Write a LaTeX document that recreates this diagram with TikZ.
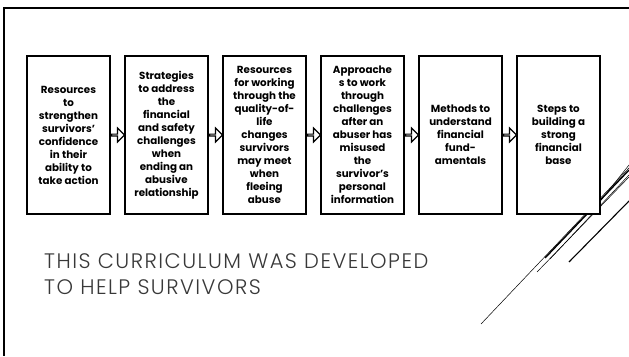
\documentclass[tikz,border=0pt]{standalone}
\usepackage{fontspec}
\setmainfont{Poppins}
\newfontfamily\titlefont[LetterSpace=7]{Poppins Light}
\usetikzlibrary{shapes,arrows,positioning,calc}

\definecolor{titlegray}{HTML}{383838}

\begin{document}
\begin{tikzpicture}[
    x=1pt, y=-1pt,
    stage/.style = {rectangle, draw, line width=1.1pt, fill=white, minimum width=83pt, minimum height=158pt, inner sep=0pt, align=center, font=\fontsize{10.3}{13}\selectfont\bfseries},
    flow/.style = {single arrow, draw, line width=1.1pt, fill=white, minimum height=13pt, minimum width=14pt, single arrow head extend=3.5pt, inner sep=0pt},
    deco/.style = {line width=0.5pt}
]
    \useasboundingbox (0,0) rectangle (629,356);
    % slide frame
    \draw[line width=2.5pt] (3,8) -- (629,8);
    \draw[line width=2.5pt] (4,8) -- (4,356);

    % diagonal decoration
    \draw[deco] (481,324) -- (629,168);
    \draw[deco] (537,272) -- (629,177);
    \draw[line width=1.4pt] (545,258) -- (629,170);
    \draw[deco] (550,259) -- (629,175);
    \draw[deco] (590,214) -- (629,165);
    \draw[line width=1.1pt] (569,262) -- (629,201);

    \node[stage] (confidence) at (68.5,135) {Resources\\to\\strengthen\\survivors’\\confidence\\in their\\ability to\\take action};
    \node[stage] (strategies) at (166.5,135) {Strategies\\to address\\the\\financial\\and safety\\challenges\\when\\ending an\\abusive\\relationship};
    \node[stage] (quality) at (264.5,135) {Resources\\for working\\through the\\quality-of-\\life\\changes\\survivors\\may meet\\when\\fleeing\\abuse};
    \node[stage] (approaches) at (362.5,135) {Approache\\s to work\\through\\challenges\\after an\\abuser has\\misused\\the\\survivor’s\\personal\\information};
    \node[stage] (methods) at (460.5,135) {Methods to\\understand\\financial\\fund-\\amentals};
    \node[stage] (base) at (558.5,135) {Steps to\\building a\\strong\\financial\\base};

    \node[flow] (f1) at ($(confidence.east)!0.5!(strategies.west)$) {};
    \node[flow] (f2) at ($(strategies.east)!0.5!(quality.west)$) {};
    \node[flow] (f3) at ($(quality.east)!0.5!(approaches.west)$) {};
    \node[flow] (f4) at ($(approaches.east)!0.5!(methods.west)$) {};
    \node[flow] (f5) at ($(methods.east)!0.5!(base.west)$) {};

    \node[anchor=north west, inner sep=0pt, align=left, text=titlegray, font=\titlefont\fontsize{21}{26.5}\selectfont] (title) at (44,253) {THIS CURRICULUM WAS DEVELOPED\\TO HELP SURVIVORS};
\end{tikzpicture}
\end{document}
